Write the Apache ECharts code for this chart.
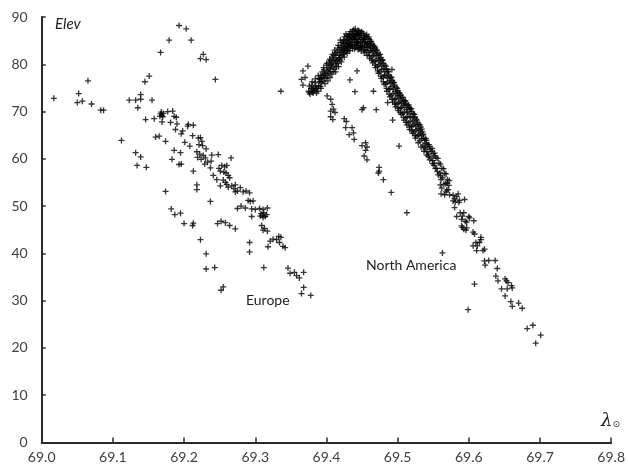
<!DOCTYPE html>
<html>
<head>
<meta charset="utf-8">
<script src="https://cdn.jsdelivr.net/npm/echarts@6/dist/echarts.min.js"></script>
<style>
  html, body { margin: 0; padding: 0; background: #fff; }
  #chart { width: 628px; height: 470px; }
</style>
</head>
<body>
<div id="chart"></div>
<script>
// Axis ranges
const xRange = [69.0, 69.8, 0.1];
const yRange = [0, 90, 10];

// Radiant elevation vs. solar longitude, European stations [lambda, elev]
const europe = [
  [69.017,72.8],[69.052,73.8],[69.050,71.9],[69.057,72.2],[69.065,76.5],[69.070,71.6],[69.083,70.3],[69.087,70.3],
  [69.112,63.9],[69.123,72.4],[69.132,72.4],[69.139,73.6],[69.139,72.6],[69.135,70.8],[69.145,76.3],[69.151,77.5],
  [69.155,72.4],[69.146,68.3],[69.158,68.5],
  [69.167,82.5],[69.179,85.1],[69.193,88.2],[69.203,87.5],[69.210,85.1],[69.223,81.2],[69.227,82.1],[69.231,81.0],[69.244,76.8],
  [69.132,61.3],[69.139,60.4],[69.134,58.6],[69.147,58.2],
  [69.160,64.6],[69.165,64.8],[69.174,63.7],
  [69.167,69.5],[69.168,69.9],[69.169,69.2],[69.170,68.9],[69.166,69.0],[69.171,69.6],
  [69.169,67.8],[69.177,70.0],[69.184,70.1],[69.186,69.0],[69.189,68.8],[69.181,67.7],[69.190,67.4],[69.188,66.2],
  [69.196,65.3],[69.198,65.9],[69.205,66.9],[69.206,67.3],[69.213,67.1],
  [69.201,63.5],[69.208,62.7],[69.212,64.9],[69.220,64.4],[69.223,64.5],[69.225,63.7],[69.221,63.0],[69.226,62.8],[69.231,62.1],
  [69.218,61.5],[69.222,61.0],[69.227,60.7],[69.219,60.3],[69.224,59.9],
  [69.239,60.8],[69.248,60.9],[69.230,60.2],[69.233,59.3],[69.229,58.9],[69.238,59.5],[69.237,58.1],
  [69.241,56.5],[69.246,55.6],[69.251,54.3],
  [69.249,58.0],[69.253,58.6],[69.257,58.3],[69.260,58.6],[69.251,57.4],[69.256,57.2],[69.259,57.0],
  [69.266,60.2],[69.255,55.5],[69.258,55.0],[69.260,54.6],[69.262,56.5],[69.264,56.0],[69.262,54.0],[69.267,54.3],
  [69.272,54.5],[69.270,53.7],[69.275,53.2],[69.279,53.9],[69.283,53.0],[69.287,53.2],[69.292,52.8],[69.272,53.0],
  [69.290,51.2],[69.293,51.0],[69.297,51.1],
  [69.275,49.5],[69.280,50.0],[69.286,49.6],[69.295,49.4],[69.300,49.3],[69.306,49.5],[69.311,49.3],[69.317,49.6],
  [69.308,48.4],[69.310,48.0],[69.312,48.6],[69.314,47.8],[69.316,48.2],[69.311,47.6],[69.307,47.9],[69.295,47.8],
  [69.309,45.9],[69.311,44.9],[69.313,45.3],[69.317,44.7],
  [69.174,53.1],[69.182,49.4],[69.187,48.2],[69.195,48.5],[69.200,46.3],[69.212,45.9],[69.213,46.4],
  [69.218,54.5],[69.218,53.5],[69.213,57.4],[69.237,51.0],
  [69.247,46.3],[69.252,46.8],[69.258,46.5],[69.264,45.9],[69.272,45.2],
  [69.193,58.8],[69.196,58.9],[69.183,59.9],[69.186,61.8],[69.195,61.3],
  [69.223,42.9],[69.231,39.9],[69.231,36.7],[69.243,37.0],[69.252,32.2],[69.255,32.9],
  [69.292,42.3],[69.292,40.3],[69.312,37.0],
  [69.318,41.4],[69.321,42.6],[69.325,43.0],[69.330,42.9],[69.333,43.6],[69.336,43.4],[69.334,42.3],[69.339,41.5],[69.342,41.2],
  [69.346,36.9],[69.349,35.8],[69.355,36.0],[69.358,35.3],[69.362,34.8],[69.368,36.0],[69.368,32.8],[69.365,31.5],[69.378,31.1]
];

// North American stations: main arc
const naArc = [
  [69.375,74.3],[69.376,75.4],[69.377,73.7],[69.3785,74.9],[69.376,74.0],
  [69.3795,75.6],[69.380,74.1],[69.3815,73.9],[69.382,75.0],[69.380,76.3],[69.381,74.7],
  [69.383,74.4],[69.3845,76.9],[69.385,75.4],[69.386,73.9],[69.384,76.1],[69.3855,74.8],
  [69.387,74.9],[69.3885,77.6],[69.389,75.5],[69.3905,76.4],[69.388,74.3],[69.3895,77.0],
  [69.3915,75.3],[69.392,77.7],[69.393,76.2],[69.394,78.4],[69.3925,74.9],[69.391,76.8],[69.3935,77.2],
  [69.395,76.4],[69.3965,78.8],[69.397,77.1],[69.398,75.9],[69.396,79.3],[69.3975,78.0],[69.3955,77.6],
  [69.3995,77.0],[69.400,79.8],[69.401,78.6],[69.402,76.5],[69.4005,80.2],[69.399,78.0],[69.4015,77.6],[69.402,79.3],
  [69.403,78.2],[69.4045,81.1],[69.405,77.2],[69.406,79.7],[69.404,79.0],[69.4035,80.4],[69.4055,78.5],[69.406,80.8],
  [69.4075,77.9],[69.408,81.5],[69.409,79.4],[69.410,80.8],[69.4085,82.1],[69.407,79.9],[69.4095,78.4],[69.410,81.9],[69.408,80.3],
  [69.411,79.0],[69.4125,82.4],[69.413,78.4],[69.414,80.6],[69.412,81.3],[69.4115,83.0],[69.4135,81.9],[69.414,79.5],[69.4125,80.1],
  [69.4155,80.9],[69.416,83.4],[69.417,79.5],[69.418,82.0],[69.4165,84.0],[69.415,82.6],[69.4175,81.3],[69.418,83.1],[69.416,80.2],
  [69.419,81.4],[69.4205,84.6],[69.421,80.5],[69.422,83.0],[69.420,82.4],[69.4195,85.1],[69.4215,84.0],[69.422,81.8],[69.4205,83.6],[69.419,80.9],
  [69.4235,82.6],[69.424,85.1],[69.425,81.5],[69.426,84.4],[69.4245,83.8],[69.423,84.7],[69.4255,85.8],[69.426,82.9],[69.424,82.1],[69.425,83.3],
  [69.427,83.3],[69.4285,85.9],[69.429,82.3],[69.430,84.6],[69.428,84.1],[69.4275,86.4],[69.4295,85.2],[69.430,83.0],[69.4285,82.7],[69.427,85.0],[69.429,83.7],
  [69.4315,84.2],[69.432,86.3],[69.433,82.9],[69.434,85.1],[69.4325,85.6],[69.431,83.5],[69.4335,86.9],[69.434,84.0],[69.432,84.8],[69.4305,86.0],[69.433,83.8],
  [69.435,84.1],[69.4365,87.0],[69.437,83.3],[69.438,85.8],[69.436,85.3],[69.4355,86.4],[69.4375,84.7],[69.438,87.3],[69.4365,83.9],[69.435,85.7],[69.437,86.1],
  [69.4395,84.6],[69.440,86.9],[69.441,83.6],[69.442,85.4],[69.4405,87.5],[69.439,85.9],[69.4415,84.1],[69.442,86.6],[69.440,85.2],[69.4395,83.3],[69.441,86.2],[69.4425,84.8],
  [69.443,85.3],[69.4445,87.2],[69.445,83.5],[69.446,85.9],[69.444,84.4],[69.4435,86.5],[69.4455,84.9],[69.446,87.0],[69.4445,83.1],[69.443,84.0],[69.445,86.3],
  [69.4475,84.0],[69.448,86.6],[69.449,82.8],[69.450,85.2],[69.4485,85.7],[69.447,83.3],[69.4495,86.9],[69.450,83.9],[69.448,84.6],[69.4475,86.1],[69.449,83.6],
  [69.451,83.6],[69.4525,86.1],[69.453,82.4],[69.454,84.8],[69.452,85.2],[69.4515,86.6],[69.4535,83.9],[69.454,86.0],[69.4525,83.0],[69.451,84.5],[69.453,85.5],
  [69.4555,83.1],[69.456,85.8],[69.457,81.9],[69.458,84.4],[69.4565,86.3],[69.455,84.7],[69.4575,83.5],[69.458,85.5],[69.456,82.6],[69.4565,84.1],
  [69.459,82.5],[69.4605,85.2],[69.461,81.2],[69.462,83.7],[69.460,84.3],[69.4595,85.8],[69.4615,82.9],[69.462,84.9],[69.4605,81.8],[69.459,83.9],
  [69.4635,81.5],[69.464,84.3],[69.465,80.3],[69.466,82.7],[69.4645,83.4],[69.463,84.8],[69.4655,81.9],[69.466,84.0],[69.464,80.9],[69.4635,82.9],
  [69.467,80.6],[69.4685,83.4],[69.469,79.3],[69.470,81.8],[69.468,82.2],[69.4675,83.8],[69.4695,80.8],[69.470,83.0],[69.4685,79.8],
  [69.4715,79.5],[69.472,82.4],[69.473,78.1],[69.474,80.7],[69.4725,81.2],[69.471,83.0],[69.4735,79.9],[69.474,82.0],[69.472,78.6],
  [69.475,78.4],[69.4765,81.4],[69.477,77.0],[69.478,79.6],[69.476,80.3],[69.4755,82.1],[69.4775,78.9],[69.478,81.0],[69.4765,77.5],
  [69.4795,77.3],[69.480,80.2],[69.481,75.8],[69.482,78.4],[69.4805,79.0],[69.479,80.8],[69.4815,77.7],[69.482,79.8],[69.480,76.3],
  [69.483,75.8],[69.4845,79.0],[69.485,74.3],[69.486,77.1],[69.484,77.6],[69.4835,79.6],[69.4855,76.2],[69.486,78.5],[69.4845,74.9],
  [69.4875,74.7],[69.488,77.7],[69.489,73.1],[69.490,75.9],[69.4885,76.5],[69.487,78.4],[69.4895,74.8],[69.490,77.3],[69.488,73.7],
  [69.491,73.4],[69.4925,76.6],[69.493,72.0],[69.494,74.7],[69.492,75.3],[69.4915,77.2],[69.4935,73.8],[69.494,76.2],[69.4925,72.6],
  [69.4955,72.5],[69.496,75.6],[69.497,71.0],[69.498,73.8],[69.4965,74.2],[69.495,76.1],[69.4975,72.8],[69.498,75.1],[69.496,71.6],
  [69.499,71.6],[69.5005,74.4],[69.501,70.2],[69.502,72.7],[69.500,73.3],[69.4995,74.9],[69.5015,71.9],[69.502,74.0],[69.5005,70.7],
  [69.5035,70.6],[69.504,73.4],[69.505,69.4],[69.506,71.8],[69.5045,72.2],[69.503,73.8],[69.5055,70.9],[69.506,73.0],[69.504,69.8],
  [69.507,69.6],[69.5085,72.4],[69.509,68.2],[69.510,70.9],[69.508,71.3],[69.5075,73.0],[69.5095,69.9],[69.510,72.1],[69.5085,68.7],
  [69.5115,68.6],[69.512,71.6],[69.513,67.2],[69.514,69.9],[69.5125,70.4],[69.511,72.3],[69.5135,68.9],[69.514,71.3],[69.512,67.7],
  [69.515,67.6],[69.5165,70.8],[69.517,66.2],[69.518,68.9],[69.516,69.5],[69.5155,71.4],[69.5175,67.9],[69.518,70.5],[69.5165,66.7],
  [69.5195,66.8],[69.520,70.0],[69.521,65.4],[69.522,68.0],[69.5205,68.7],[69.519,70.6],[69.5215,67.1],[69.522,69.6],[69.520,65.9],
  [69.523,65.7],[69.5245,68.8],[69.525,64.4],[69.526,66.9],[69.524,67.4],[69.5235,69.4],[69.5255,66.1],[69.526,68.4],[69.5245,64.9],
  [69.5275,64.8],[69.528,67.6],[69.529,63.4],[69.530,65.9],[69.5285,66.4],[69.527,68.2],[69.5295,65.1],[69.530,67.3],
  [69.531,63.8],[69.5325,66.7],[69.533,62.5],[69.534,64.9],[69.532,65.5],[69.5315,67.2],[69.5335,64.2],[69.534,66.3],
  [69.5355,62.9],[69.536,65.2],[69.537,61.6],[69.538,63.9],[69.5365,64.4],[69.535,65.7],[69.5375,62.4],
  [69.539,62.1],[69.5405,63.9],[69.541,60.8],[69.542,62.9],[69.540,63.3],[69.5395,64.3],[69.5415,61.5],
  [69.5435,61.0],[69.544,63.0],[69.545,59.8],[69.546,62.0],[69.5445,62.6],[69.543,60.5],
  [69.547,60.2],[69.5485,62.2],[69.549,59.0],[69.550,61.1],[69.548,61.6],[69.5495,59.6],
  [69.5515,59.1],[69.552,61.2],[69.553,58.0],[69.554,60.2],[69.5525,60.6],[69.551,58.6],
  [69.555,58.0],[69.5565,60.1],[69.557,56.6],[69.558,59.1],[69.556,57.3],
  [69.5595,57.0],[69.560,58.9],[69.561,55.6],[69.562,58.0],[69.5605,56.4],
  [69.563,56.0],[69.5645,57.9],[69.565,54.6],[69.566,56.9],
  [69.5675,54.8],[69.568,56.8],[69.569,53.4],[69.570,55.6],
  [69.571,53.5],[69.5725,55.4],[69.573,52.4]
];

// North American stations: scattered and secondary-track detections
const naScatter = [
  [69.336,74.3],
  [69.367,78.6],[69.374,79.6],[69.365,76.8],[69.370,77.2],[69.367,75.6],
  [69.401,73.3],[69.406,72.6],[69.408,71.5],[69.410,70.5],[69.412,69.8],[69.406,70.1],[69.406,68.9],[69.409,68.3],
  [69.433,76.7],[69.440,74.2],[69.443,78.6],[69.450,70.4],[69.452,70.8],[69.466,74.3],[69.470,70.4],
  [69.425,68.5],[69.428,67.9],[69.427,66.6],[69.436,66.6],[69.438,65.5],[69.432,65.1],[69.439,64.1],
  [69.450,62.8],[69.455,63.4],[69.457,62.5],[69.455,61.8],[69.453,60.6],[69.457,59.8],
  [69.474,58.2],[69.474,57.4],[69.473,57.0],[69.480,55.6],[69.491,52.9],[69.513,48.6],
  [69.502,62.7],[69.493,68.2],[69.486,71.9],[69.492,78.9],
  [69.563,40.1],[69.599,28.1],[69.608,33.5]
];

// North American stations: low-elevation tail
const naTail = [
  [69.560,54.5],[69.562,53.8],[69.561,52.6],[69.566,52.4],[69.570,54.9],[69.572,54.4],[69.568,53.0],
  [69.578,52.3],[69.580,51.6],[69.581,50.9],[69.583,52.0],[69.585,52.6],[69.587,51.2],[69.586,50.8],[69.594,51.4],[69.578,51.1],[69.580,49.7],
  [69.583,47.8],[69.588,48.6],[69.590,47.2],[69.591,47.9],[69.593,48.6],[69.595,46.8],[69.590,45.8],[69.591,45.5],[69.593,45.1],
  [69.596,44.9],[69.597,46.6],[69.600,47.8],[69.601,47.5],[69.607,46.9],[69.597,45.4],
  [69.606,44.5],[69.608,44.1],[69.610,42.3],[69.615,42.3],[69.617,43.4],[69.612,41.6],[69.606,41.6],[69.611,40.6],[69.620,40.6],[69.622,40.9],[69.617,42.9],
  [69.622,38.4],[69.628,38.5],[69.637,38.5],[69.623,37.5],[69.640,36.8],
  [69.638,35.2],[69.641,34.2],[69.651,34.6],[69.653,34.2],[69.655,33.8],[69.660,33.2],[69.661,32.7],[69.654,32.5],[69.646,32.5],[69.651,31.0],
  [69.659,29.8],[69.661,28.8],[69.670,29.5],[69.675,28.4],
  [69.682,24.1],[69.690,24.8],[69.701,22.7],[69.694,21.0]
];

const northAmerica = naArc.concat(naScatter, naTail);

const FONT = 'Lato, "Open Sans", sans-serif';
// "+" marker, 6x6 units with 1.3-unit bars
const PLUS = 'path://M2.35,0L3.65,0L3.65,6L2.35,6ZM0,2.35L6,2.35L6,3.65L0,3.65Z';
const axisColor = '#2b2b2b';

const chart = echarts.init(document.getElementById('chart'), null, { renderer: 'canvas' });

function scatter(name, data) {
  return {
    name: name,
    type: 'scatter',
    data: data,
    symbol: PLUS,
    symbolSize: 6,
    itemStyle: { color: '#000' },
    silent: true
  };
}

chart.setOption({
  animation: false,
  backgroundColor: '#fff',
  grid: { left: 41.7, right: 12, top: 17, bottom: 27.5 },
  xAxis: {
    type: 'value',
    min: xRange[0], max: xRange[1], interval: xRange[2],
    axisLine: { show: true, onZero: false, lineStyle: { color: axisColor, width: 2 } },
    axisTick: { show: true, inside: true, length: 5, lineStyle: { color: axisColor, width: 1.5 } },
    splitLine: { show: false },
    axisLabel: {
      color: '#404040', fontFamily: FONT, fontSize: 14, margin: 8,
      formatter: v => v.toFixed(1), showMinLabel: true, showMaxLabel: true
    }
  },
  yAxis: {
    type: 'value',
    min: yRange[0], max: yRange[1], interval: yRange[2],
    axisLine: { show: true, lineStyle: { color: axisColor, width: 2 } },
    axisTick: { show: true, inside: true, length: 4, lineStyle: { color: axisColor, width: 1.5 } },
    splitLine: { show: false },
    axisLabel: { color: '#404040', fontFamily: FONT, fontSize: 14, margin: 14 }
  },
  series: [scatter('Europe', europe), scatter('North America', northAmerica)],
  graphic: [
    { type: 'text', left: 55, top: 17,
      style: { text: 'Elev', font: 'italic 15px ' + FONT, fill: '#222' } },
    { type: 'text', left: 246, top: 293,
      style: { text: 'Europe', font: '14px ' + FONT, fill: '#222' } },
    { type: 'text', left: 366, top: 258,
      style: { text: 'North America', font: '14px ' + FONT, fill: '#222' } },
    { type: 'text', left: 601, top: 412,
      style: {
        text: '{l|λ}{s|⊙}',
        rich: {
          l: { font: 'italic 18px "DejaVu Serif", serif', fill: '#222' },
          s: { font: 'italic 9px "DejaVu Sans", sans-serif', fill: '#222', padding: [8, 0, 0, 0] }
        }
      } }
  ]
});
</script>
</body>
</html>
